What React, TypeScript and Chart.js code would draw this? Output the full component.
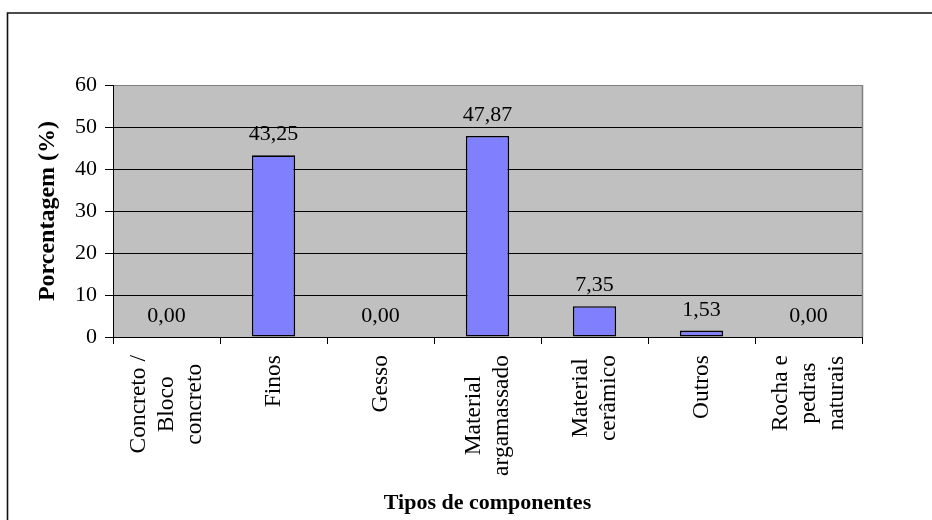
import React, { useEffect, useRef } from 'react';
import { Chart, registerables } from 'chart.js';

Chart.register(...registerables);

// ---- data ----
const categories: string[][] = [
  ['Concreto /', 'Bloco', 'concreto'],
  ['Finos'],
  ['Gesso'],
  ['Material', 'argamassado'],
  ['Material', 'cerâmico'],
  ['Outros'],
  ['Rocha e', 'pedras', 'naturais'],
];
const percentages: number[] = [0.0, 43.25, 0.0, 47.87, 7.35, 1.53, 0.0];
const yMin = 0;
const yMax = 60;
const yStep = 10;
const yAxisTitle = 'Porcentagem (%)';
const xAxisTitle = 'Tipos de componentes';

const SERIF = '"Liberation Serif", "Times New Roman", serif';
const W = 932;
const H = 520;

const fmt = (v: number) => v.toFixed(2).replace('.', ',');

const decorPlugin = {
  id: 'decor',
  beforeDraw(chart: any) {
    const { ctx, chartArea } = chart;
    ctx.save();
    ctx.fillStyle = '#ffffff';
    ctx.fillRect(0, 0, chart.width, chart.height);
    // outer frame (left + top visible)
    ctx.strokeStyle = '#111';
    ctx.lineWidth = 1.6;
    ctx.beginPath();
    ctx.moveTo(7.5, chart.height + 5);
    ctx.lineTo(7.5, 13);
    ctx.lineTo(chart.width + 5, 13);
    ctx.stroke();
    // plot area background
    ctx.fillStyle = '#C0C0C0';
    ctx.fillRect(chartArea.left, chartArea.top, chartArea.right - chartArea.left, chartArea.bottom - chartArea.top);
    ctx.restore();
  },
  beforeDatasetsDraw(chart: any) {
    const { ctx, chartArea } = chart;
    ctx.save();
    ctx.strokeStyle = '#808080';
    ctx.lineWidth = 1.5;
    ctx.beginPath();
    const rx = Math.round(chartArea.right) + 0.5;
    ctx.moveTo(rx, chartArea.top);
    ctx.lineTo(rx, chartArea.bottom);
    ctx.stroke();
    ctx.restore();
  },
  afterDatasetsDraw(chart: any) {
    const { ctx } = chart;
    const meta = chart.getDatasetMeta(0);
    const data = chart.data.datasets[0].data as number[];
    ctx.save();
    ctx.font = `22px ${SERIF}`;
    ctx.fillStyle = '#000';
    ctx.textAlign = 'center';
    ctx.textBaseline = 'alphabetic';
    meta.data.forEach((el: any, i: number) => {
      ctx.fillText(fmt(data[i]), el.x, el.y - 15);
    });
    ctx.restore();
  },
  afterDraw(chart: any) {
    const { ctx } = chart;
    const xs = chart.scales.x;
    const lh = 28;
    ctx.save();
    ctx.font = `23.5px ${SERIF}`;
    ctx.fillStyle = '#000';
    ctx.textAlign = 'center';
    ctx.textBaseline = 'middle';
    const labels = chart.data.labels as string[][];
    labels.forEach((lines, i) => {
      const cx = xs.getPixelForValue(i);
      const top = xs.top + 18;
      const wMax = Math.max(...lines.map((l) => ctx.measureText(l).width));
      ctx.save();
      ctx.translate(cx, top);
      ctx.rotate(-Math.PI / 2);
      lines.forEach((line, j) => {
        ctx.fillText(line, -wMax / 2, (j - (lines.length - 1) / 2) * lh);
      });
      ctx.restore();
    });
    ctx.restore();
  },
};

export default function App() {
  const ref = useRef<HTMLCanvasElement | null>(null);

  useEffect(() => {
    if (!ref.current) return;
    const chart = new Chart(ref.current, {
      type: 'bar',
      data: {
        labels: categories,
        datasets: [
          {
            data: percentages,
            backgroundColor: '#8080FF',
            borderColor: '#000000',
            borderWidth: 1.6,
            borderSkipped: false,
            categoryPercentage: 1,
            barPercentage: 0.405,
          },
        ],
      },
      options: {
        responsive: false,
        animation: false,
        devicePixelRatio: 1,
        layout: { padding: { left: 20, top: 85, right: 70, bottom: 0 } },
        plugins: {
          legend: { display: false },
          tooltip: { enabled: false },
        },
        scales: {
          x: {
            type: 'category',
            offset: true,
            grid: {
              offset: true,
              drawOnChartArea: false,
              drawTicks: true,
              tickLength: 7,
              color: '#000',
              tickColor: '#000',
            },
            border: { display: true, color: '#000', width: 1 },
            ticks: { display: false },
            title: {
              display: true,
              text: xAxisTitle,
              color: '#000',
              font: { family: SERIF, size: 22, weight: 'bold' },
              padding: { top: 0, bottom: 3 },
            },
            afterFit: (scale: any) => {
              scale.height = 183;
            },
          },
          y: {
            min: yMin,
            max: yMax,
            ticks: {
              stepSize: yStep,
              color: '#000',
              padding: 8,
              font: { family: SERIF, size: 22 },
              callback: (v: any) => String(v),
            },
            grid: {
              color: (c: any) => (c.tick && c.tick.value === yMax ? '#808080' : '#000'),
              tickColor: '#000',
              tickLength: 8,
              lineWidth: 1,
            },
            border: { display: true, color: '#000', width: 1 },
            title: {
              display: true,
              text: yAxisTitle,
              color: '#000',
              font: { family: SERIF, size: 24, weight: 'bold' },
              padding: { top: 13, bottom: 0 },
            },
            afterFit: (scale: any) => {
              scale.width = 93;
            },
          },
        },
      },
      plugins: [decorPlugin],
    } as any);
    return () => chart.destroy();
  }, []);

  return (
    <div style={{ position: 'fixed', left: 0, top: 0, width: W, height: H, background: '#fff' }}>
      <canvas ref={ref} width={W} height={H} style={{ display: 'block', width: W, height: H }} />
    </div>
  );
}
